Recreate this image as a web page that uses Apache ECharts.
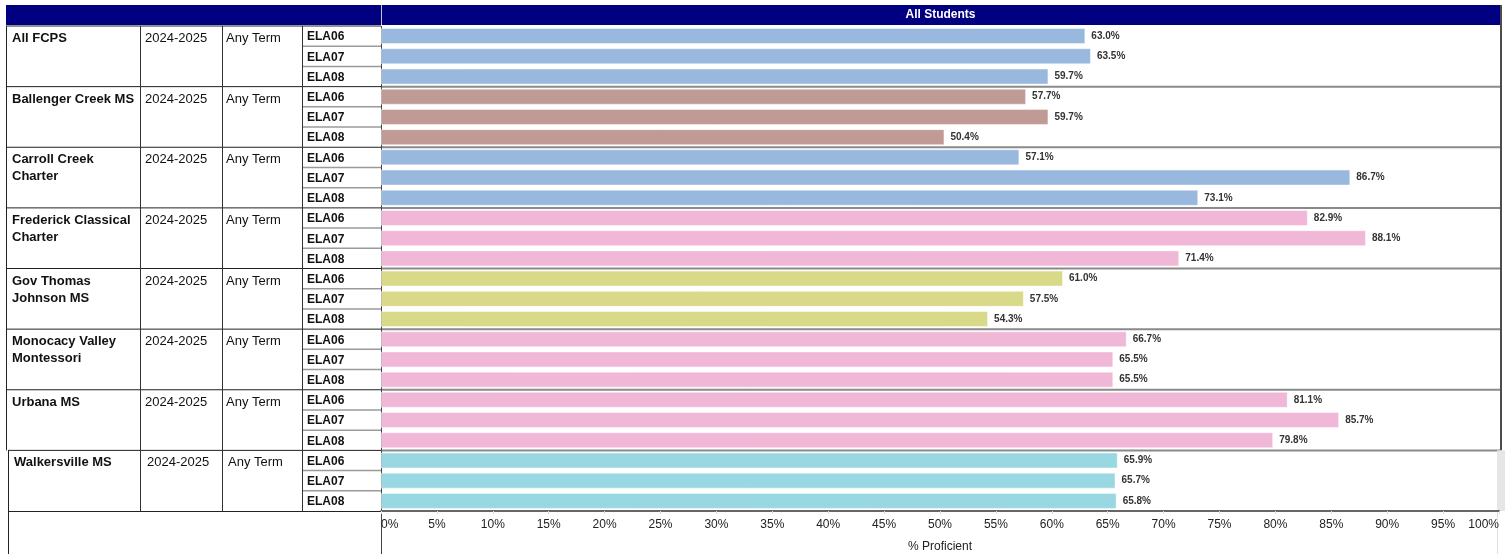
<!DOCTYPE html>
<html>
<head>
<meta charset="utf-8">
<script src="https://cdn.jsdelivr.net/npm/echarts@6/dist/echarts.min.js"></script>
<style>
  html, body { margin: 0; padding: 0; background: #fff; }
  #chart { width: 1512px; height: 554px; }
</style>
</head>
<body>
<div id="chart"></div>
<script>
// Données
const schools = [ 'All FCPS', 'Ballenger Creek MS', 'Carroll Creek\nCharter', 'Frederick Classical\nCharter',
  'Gov Thomas\nJohnson MS', 'Monocacy Valley\nMontessori', 'Urbana MS', 'Walkersville MS' ];
const years = [ '2024-2025', '2024-2025', '2024-2025', '2024-2025', '2024-2025', '2024-2025', '2024-2025', '2024-2025' ];
const terms = [ 'Any Term', 'Any Term', 'Any Term', 'Any Term', 'Any Term', 'Any Term', 'Any Term', 'Any Term' ];
const subjects = [ 'ELA06', 'ELA07', 'ELA08' ];
const values = [
  [ 63.0, 63.5, 59.7 ],
  [ 57.7, 59.7, 50.4 ],
  [ 57.1, 86.7, 73.1 ],
  [ 82.9, 88.1, 71.4 ],
  [ 61.0, 57.5, 54.3 ],
  [ 66.7, 65.5, 65.5 ],
  [ 81.1, 85.7, 79.8 ],
  [ 65.9, 65.7, 65.8 ]
];
const schoolColors = [ '#98b9dd', '#c09b96', '#98b9dd', '#f0b7d7', '#d9d98a', '#f0b7d7', '#f0b7d7', '#99d8e2' ];
const xTicks = { min: 0, max: 100, interval: 5 };

const FONT = '"Liberation Sans", Arial, sans-serif';

// Construction des catégories (une ligne par école / matière)
const rowLabels = [];
const barData = [];
schools.forEach( ( school, s ) => {
  subjects.forEach( ( subj, k ) => {
    rowLabels.push( s + '-' + subj );
    barData.push( {
      value: values[ s ][ k ],
      itemStyle: { color: schoolColors[ s ], borderColor: 'rgba(255,255,255,0.45)', borderWidth: 1 }
    } );
  } );
} );

const chart = echarts.init( document.getElementById( 'chart' ) );

chart.setOption( {
  animation: false,
  textStyle: { fontFamily: FONT },
  grid: { left: 381, right: 13, top: 26, bottom: 43, containLabel: false, outerBoundsMode: 'none' },
  xAxis: {
    type: 'value',
    min: xTicks.min,
    max: xTicks.max,
    interval: xTicks.interval,
    name: '% Proficient',
    nameLocation: 'middle',
    nameGap: 30,
    nameTextStyle: { fontSize: 12, color: '#222', fontFamily: FONT },
    axisLine: { show: true, lineStyle: { color: '#666', width: 2 } },
    axisTick: { show: true, length: 3, inside: false, lineStyle: { color: '#ddd' } },
    axisLabel: {
      formatter: '{value}%', fontSize: 12, color: '#222', margin: 8,
      alignMinLabel: 'left', alignMaxLabel: 'right', fontFamily: FONT
    },
    splitLine: { show: false }
  },
  yAxis: {
    type: 'category',
    inverse: true,
    data: rowLabels,
    axisLine: { show: false },
    axisTick: { show: false },
    axisLabel: { show: false }
  },
  series: [ {
    type: 'bar',
    data: barData,
    barWidth: 16,
    label: {
      show: true,
      position: 'right',
      distance: 6,
      formatter: ( p ) => p.value.toFixed( 1 ) + '%',
      fontSize: 10,
      fontWeight: 'bold',
      color: '#333',
      fontFamily: FONT
    }
  } ]
} );

// Tableau à gauche, dessiné à partir des positions de l'axe
function buildTable () {
  const graphics = [];
  const n = rowLabels.length;
  const yTop = 26;
  const c0 = chart.convertToPixel( { yAxisIndex: 0 }, rowLabels[ 0 ] );
  const c1 = chart.convertToPixel( { yAxisIndex: 0 }, rowLabels[ 1 ] );
  const band = c1 - c0;
  const rowTop = ( i ) => chart.convertToPixel( { yAxisIndex: 0 }, rowLabels[ i ] ) - band / 2;
  const yBottom = rowTop( n - 1 ) + band;
  const chartLeft = 381;
  const chartRight = 1500;
  const line = ( x1, y1, x2, y2, color, width ) => ( {
    type: 'line', silent: true,
    shape: { x1, y1, x2, y2 },
    style: { stroke: color, lineWidth: width }
  } );
  const text = ( x, y, t, weight, size, vAlign ) => ( {
    type: 'text', silent: true, x, y,
    style: { text: t, fill: '#111', font: weight + ' ' + size + 'px ' + FONT, verticalAlign: vAlign, lineHeight: 17 }
  } );

  // Entête
  graphics.push( { type: 'rect', silent: true, shape: { x: 6, y: 5, width: chartRight - 6, height: 20 }, style: { fill: '#000080' } } );
  graphics.push( line( chartLeft + 0.5, 5, chartLeft + 0.5, 25, '#c8c8c8', 1 ) );
  graphics.push( {
    type: 'text', silent: true, x: ( chartLeft + chartRight ) / 2, y: 15,
    style: { text: 'All Students', fill: '#fff', font: 'bold 12px ' + FONT, align: 'center', verticalAlign: 'middle' }
  } );

  const lastTop = rowTop( 3 * ( schools.length - 1 ) );
  schools.forEach( ( school, s ) => {
    const gTop = rowTop( 3 * s );
    const shift = s === schools.length - 1 ? 2 : 0;
    graphics.push( text( 12 + shift, gTop + 4, school, 'bold', 13, 'top' ) );
    graphics.push( text( 145 + shift, gTop + 4, years[ s ], 'normal', 13, 'top' ) );
    graphics.push( text( 226 + shift, gTop + 4, terms[ s ], 'normal', 13, 'top' ) );
    subjects.forEach( ( subj, k ) => {
      const r = 3 * s + k;
      const top = rowTop( r );
      graphics.push( text( 307, top + band / 2 + 1, subj, 'bold', 12, 'middle' ) );
      if ( k > 0 ) {
        graphics.push( line( 302, top, chartLeft, top, '#9a9a9a', 1.5 ) );
      }
    } );
    // séparateurs de groupes
    graphics.push( line( 6 + shift, gTop, chartLeft, gTop, '#222', 1 ) );
    if ( s > 0 ) {
      graphics.push( line( chartLeft, gTop, chartRight, gTop, '#8a8a8a', 2 ) );
    }
  } );
  graphics.push( line( 8, yBottom + 0.5, chartLeft, yBottom + 0.5, '#222', 1 ) );

  // colonnes
  graphics.push( line( 6.5, yTop, 6.5, lastTop, '#222', 1 ) );
  graphics.push( line( 8.5, lastTop, 8.5, 554, '#222', 1 ) );
  [ 140.5, 222.5, 302.5 ].forEach( ( x ) => {
    graphics.push( line( x, yTop, x, yBottom, '#333', 1 ) );
  } );
  graphics.push( line( chartLeft + 0.5, yTop, chartLeft + 0.5, 554, '#444', 1 ) );

  // bord droit
  graphics.push( line( chartRight + 1, 5, chartRight + 1, lastTop, '#111', 1.5 ) );
  graphics.push( { type: 'rect', silent: true, shape: { x: 1497, y: lastTop, width: 8, height: yBottom - lastTop }, style: { fill: '#e6e6e6' } } );
  graphics.push( line( 1497.5, yBottom, 1497.5, 554, '#e0e0e0', 1 ) );

  chart.setOption( { graphic: graphics } );
}

buildTable();
</script>
</body>
</html>
